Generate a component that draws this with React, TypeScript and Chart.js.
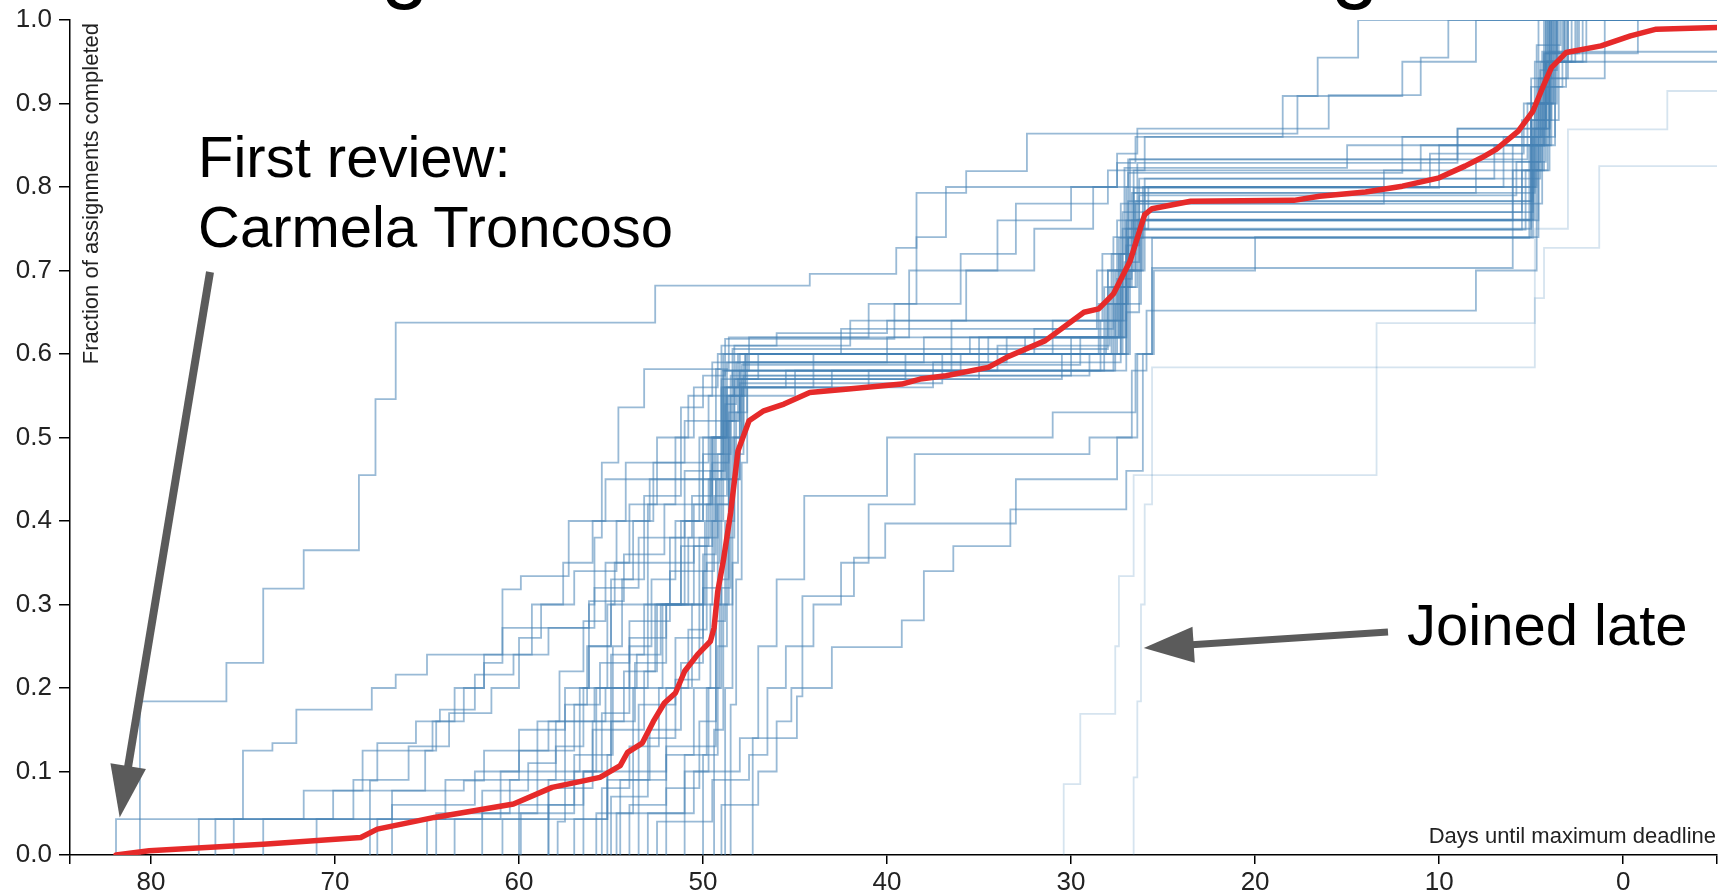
import React, { useEffect, useRef } from "react";
import { Chart, registerables } from "chart.js";

Chart.register(...registerables);

type Step = [number, number];

// ---- axes ----
const xTickValues = [80, 70, 60, 50, 40, 30, 20, 10, 0];
const yTickValues = [0, 0.1, 0.2, 0.3, 0.4, 0.5, 0.6, 0.7, 0.8, 0.9, 1.0];
const xStart = 84.4;
const xEnd = -5.1;

// ---- average (red) ----
const avgDays = [81.9, 80.1, 73.9, 68.6, 67.7, 64.6, 60.3, 58.2, 55.6, 54.5, 54.1, 53.3, 52.7, 52.1, 51.5, 51.0, 50.3, 49.6, 49.4, 49.2, 48.9, 48.5, 48.1, 47.5, 46.7, 45.6, 44.2, 42.1, 39.2, 38.2, 36.8, 34.5, 33.5, 31.4, 29.3, 28.5, 27.7, 26.8, 26.0, 25.6, 23.5, 17.9, 16.5, 14.0, 12.0, 10.0, 8.6, 7.7, 6.9, 5.7, 4.9, 4.3, 3.9, 3.1, 1.2, -0.4, -1.8, -5.1];
const avgFrac = [0, 0.005, 0.013, 0.021, 0.031, 0.045, 0.061, 0.081, 0.093, 0.107, 0.123, 0.134, 0.16, 0.182, 0.194, 0.22, 0.24, 0.256, 0.272, 0.316, 0.352, 0.41, 0.484, 0.52, 0.532, 0.54, 0.554, 0.558, 0.564, 0.57, 0.574, 0.584, 0.596, 0.616, 0.65, 0.654, 0.672, 0.711, 0.767, 0.774, 0.783, 0.784, 0.789, 0.794, 0.801, 0.811, 0.825, 0.835, 0.845, 0.867, 0.891, 0.923, 0.943, 0.961, 0.969, 0.981, 0.989, 0.991];

// ---- individual reviewers: [day, fraction after that day's completions] ----
const r01: Step[] = [[81.9, 0], [81.9, 0.043], [55.2, 0.09], [52.0, 0.13], [49.3, 0.3], [48.6, 0.52], [48.0, 0.565], [37.0, 0.6], [27.2, 0.7], [26.5, 0.78], [6.0, 0.85], [4.2, 0.95], [3.6, 1.0]];
const r02: Step[] = [[80.6, 0], [80.6, 0.184], [75.9, 0.23], [73.9, 0.319], [71.7, 0.365], [68.7, 0.455], [67.8, 0.546], [66.7, 0.6375], [52.6, 0.682], [44.2, 0.696], [39.5, 0.727], [38.4, 0.793], [35.7, 0.819], [32.4, 0.864], [17.7, 0.909], [16.6, 0.955], [14.4, 1.0]];
const r03: Step[] = [[77.4, 0], [77.4, 0.043], [75.0, 0.125], [73.4, 0.134], [72.1, 0.174], [68.0, 0.2], [66.7, 0.216], [65.0, 0.24], [60.9, 0.318], [59.9, 0.334], [57.3, 0.4], [55.3, 0.45], [49.0, 0.56], [48.4, 0.606], [28.0, 0.7], [26.9, 0.783], [5.0, 0.9], [3.8, 1.0]];
const r04: Step[] = [[76.5, 0], [76.5, 0.043], [70.1, 0.077], [68.5, 0.125], [64.7, 0.16], [63.0, 0.2], [61.9, 0.24], [59.3, 0.272], [56.2, 0.304], [54.3, 0.36], [52.1, 0.42], [49.6, 0.5], [48.8, 0.58], [27.0, 0.65], [26.3, 0.761], [4.8, 0.87], [4.0, 0.962], [3.2, 1.0]];
const r05: Step[] = [[75.5, 0], [75.5, 0.043], [68.1, 0.089], [67.7, 0.134], [65.6, 0.16], [64.3, 0.174], [62.4, 0.216], [60.3, 0.24], [58.4, 0.272], [55.9, 0.32], [53.5, 0.38], [51.0, 0.46], [48.9, 0.52], [48.3, 0.57], [35.0, 0.62], [27.3, 0.72], [26.6, 0.799], [10.0, 0.85], [4.3, 0.96], [2.5, 1.0]];
const r06: Step[] = [[73.9, 0], [73.9, 0.043], [71.7, 0.077], [65.1, 0.125], [64.5, 0.16], [63.5, 0.2], [61.9, 0.23], [60.9, 0.272], [59.3, 0.3], [57.0, 0.34], [54.7, 0.4], [52.9, 0.45], [49.4, 0.5], [48.7, 0.59], [40.0, 0.62], [27.6, 0.7], [26.9, 0.817], [12.0, 0.86], [4.5, 0.95], [3.0, 1.0]];
const r07: Step[] = [[68.1, 0], [68.1, 0.043], [66.9, 0.077], [63.0, 0.089], [61.9, 0.125], [58.4, 0.16], [55.3, 0.2], [53.6, 0.24], [52.3, 0.3], [50.2, 0.38], [49.2, 0.48], [48.5, 0.574], [30.0, 0.6], [27.0, 0.7], [26.2, 0.749], [5.5, 0.82], [4.1, 0.95], [2.0, 1.0]];
const r08: Step[] = [[67.7, 0], [67.7, 0.043], [64.0, 0.09], [60.0, 0.125], [57.0, 0.18], [55.6, 0.23], [54.0, 0.28], [51.8, 0.34], [49.8, 0.42], [49.0, 0.52], [48.4, 0.58], [34.0, 0.61], [27.9, 0.68], [26.7, 0.793], [8.0, 0.83], [4.2, 0.96], [-0.8, 1.0]];
const r09: Step[] = [[66.9, 0], [66.9, 0.06], [62.4, 0.1], [60.0, 0.15], [57.5, 0.2], [56.2, 0.25], [55.0, 0.3], [53.0, 0.35], [50.5, 0.42], [49.5, 0.5], [48.9, 0.56], [48.1, 0.6], [36.5, 0.64], [28.3, 0.72], [27.1, 0.823], [15.0, 0.85], [4.6, 0.93], [3.9, 1.0]];
const r10: Step[] = [[65.0, 0], [65.0, 0.043], [62.0, 0.077], [59.5, 0.11], [58.0, 0.16], [55.9, 0.2], [54.0, 0.26], [52.0, 0.3], [50.0, 0.36], [49.3, 0.45], [48.7, 0.55], [47.9, 0.587], [29.5, 0.62], [27.4, 0.739], [26.1, 0.8], [6.5, 0.86], [4.4, 0.962]];
const r11: Step[] = [[64.5, 0], [64.5, 0.05], [60.5, 0.09], [58.0, 0.13], [56.5, 0.2], [55.0, 0.24], [53.2, 0.3], [51.2, 0.37], [49.5, 0.47], [48.6, 0.55], [48.0, 0.6], [32.0, 0.63], [27.7, 0.74], [26.4, 0.829], [9.0, 0.87], [4.0, 0.95]];
const r12: Step[] = [[60.9, 0], [60.9, 0.043], [58.4, 0.09], [56.0, 0.16], [54.3, 0.22], [52.5, 0.3], [50.8, 0.38], [49.6, 0.46], [48.8, 0.54], [48.2, 0.59], [38.0, 0.62], [27.0, 0.76], [5.0, 0.86], [3.7, 1.0]];
const r13: Step[] = [[59.9, 0], [59.9, 0.05], [57.0, 0.1], [55.5, 0.17], [54.0, 0.25], [52.8, 0.33], [51.5, 0.4], [50.0, 0.48], [48.9, 0.55], [48.3, 0.61], [42.0, 0.64], [27.5, 0.76], [26.8, 0.833], [5.2, 0.9], [4.0, 1.0]];
const r14: Step[] = [[58.4, 0], [58.4, 0.06], [56.5, 0.1], [55.0, 0.16], [53.7, 0.23], [52.0, 0.3], [50.5, 0.37], [49.7, 0.45], [48.8, 0.56], [47.7, 0.6], [31.0, 0.64], [27.2, 0.75], [26.0, 0.81], [7.0, 0.85], [4.7, 0.97], [3.4, 1.0]];
const r15: Step[] = [[57.0, 0], [57.0, 0.043], [55.2, 0.1], [53.5, 0.18], [51.5, 0.26], [50.0, 0.34], [49.4, 0.43], [48.7, 0.52], [48.1, 0.57], [39.0, 0.6], [27.8, 0.72], [26.5, 0.783], [4.9, 0.87], [4.2, 1.0]];
const r16: Step[] = [[55.5, 0], [55.5, 0.08], [54.0, 0.13], [52.4, 0.2], [50.8, 0.27], [49.8, 0.35], [49.1, 0.45], [48.5, 0.55], [47.8, 0.59], [33.5, 0.62], [27.1, 0.71], [26.3, 0.79], [5.8, 0.83], [4.5, 0.94], [3.6, 1.0]];
const r17: Step[] = [[55.0, 0], [55.0, 0.07], [53.0, 0.14], [51.5, 0.21], [50.2, 0.3], [49.5, 0.4], [48.9, 0.5], [48.3, 0.56], [44.0, 0.6], [27.5, 0.69], [26.7, 0.76], [4.6, 0.88], [3.9, 1.0]];
const r18: Step[] = [[54.5, 0], [54.5, 0.09], [52.9, 0.15], [51.2, 0.23], [50.0, 0.32], [49.2, 0.42], [48.6, 0.53], [48.0, 0.58], [36.0, 0.6], [28.1, 0.66], [26.9, 0.739], [5.1, 0.85], [4.3, 0.95], [2.8, 1.0]];
const r19: Step[] = [[54.0, 0], [54.0, 0.06], [52.0, 0.12], [50.5, 0.2], [49.6, 0.3], [49.0, 0.42], [48.4, 0.5], [47.9, 0.57], [30.5, 0.6], [27.3, 0.68], [26.4, 0.761], [4.9, 0.86], [4.0, 1.0]];
const r20: Step[] = [[53.0, 0], [53.0, 0.05], [51.0, 0.12], [49.8, 0.2], [49.1, 0.33], [48.6, 0.45], [48.2, 0.53], [47.6, 0.56], [41.0, 0.58], [27.6, 0.66], [26.2, 0.749], [5.3, 0.82], [4.4, 0.93], [3.0, 1.0]];
const r21: Step[] = [[52.0, 0], [52.0, 0.08], [50.2, 0.16], [49.3, 0.28], [48.8, 0.4], [48.3, 0.5], [47.8, 0.574], [29.0, 0.6], [26.8, 0.7], [26.0, 0.8], [4.7, 0.9], [3.8, 1.0]];
const r22: Step[] = [[51.0, 0], [51.0, 0.1], [49.7, 0.2], [49.0, 0.32], [48.5, 0.45], [48.0, 0.55], [47.6, 0.6], [35.5, 0.62], [27.4, 0.72], [26.6, 0.793], [4.8, 0.9], [4.1, 1.0]];
const r23: Step[] = [[50.0, 0], [50.0, 0.12], [49.2, 0.25], [48.7, 0.38], [48.3, 0.5], [47.9, 0.56], [43.0, 0.58], [27.7, 0.68], [26.5, 0.75], [5.0, 0.88], [3.5, 1.0]];
const r24: Step[] = [[49.4, 0], [49.4, 0.15], [48.9, 0.3], [48.4, 0.45], [48.0, 0.55], [47.7, 0.6], [32.5, 0.62], [27.0, 0.73], [26.3, 0.81], [4.5, 0.92], [3.3, 1.0]];
const r25: Step[] = [[48.8, 0], [48.8, 0.2], [48.4, 0.35], [48.1, 0.48], [47.8, 0.56], [37.5, 0.59], [27.3, 0.7], [26.1, 0.77], [4.9, 0.88], [4.2, 0.95], [2.2, 1.0]];
const r26: Step[] = [[48.5, 0], [48.5, 0.18], [48.2, 0.33], [47.9, 0.47], [47.6, 0.55], [45.0, 0.58], [28.2, 0.68], [26.8, 0.76], [6.0, 0.82], [4.6, 0.92], [3.1, 1.0]];
const r27: Step[] = [[47.3, 0], [47.3, 0.14], [44.9, 0.19], [44.6, 0.31], [41.8, 0.356], [40.1, 0.397], [33.0, 0.45], [27.5, 0.5], [26.4, 0.6], [25.5, 0.7], [20.0, 0.74], [5.0, 0.85], [3.9, 1.0]];
const r28: Step[] = [[49.0, 0], [49.0, 0.06], [47.0, 0.1], [46.0, 0.16], [45.2, 0.2], [43.0, 0.249], [39.2, 0.281], [38.0, 0.34], [36.4, 0.37], [33.3, 0.414], [27.0, 0.46], [26.1, 0.6], [25.6, 0.703], [6.0, 0.78], [4.4, 0.9], [3.6, 1.0]];
const r29: Step[] = [[52.5, 0], [52.5, 0.04], [49.5, 0.09], [47.5, 0.12], [46.5, 0.2], [45.5, 0.25], [44.0, 0.3], [42.5, 0.35], [41.0, 0.42], [38.5, 0.48], [29.0, 0.5], [26.7, 0.58], [25.9, 0.652], [8.0, 0.7], [4.7, 0.85], [4.0, 1.0]];
const r30: Step[] = [[55.8, 0], [55.8, 0.05], [50.5, 0.1], [48.0, 0.14], [47.0, 0.25], [46.0, 0.33], [44.5, 0.43], [40.0, 0.5], [31.0, 0.53], [26.5, 0.6], [25.6, 0.739], [4.9, 0.82], [4.3, 0.96], [2.4, 1.0]];
const r31: Step[] = [[62.0, 0], [62.0, 0.05], [59.0, 0.1], [57.5, 0.18], [56.3, 0.25], [55.0, 0.33], [53.2, 0.43], [51.2, 0.536], [50.0, 0.574], [48.8, 0.618], [39.6, 0.66], [38.4, 0.74], [36.8, 0.8], [27.5, 0.829], [26.5, 0.86], [5.0, 0.92], [4.2, 1.0]];
const r32: Step[] = [[58.4, 0], [58.4, 0.08], [56.0, 0.15], [53.8, 0.2], [52.2, 0.3], [51.2, 0.4], [50.2, 0.5], [49.3, 0.582], [48.6, 0.62], [41.0, 0.66], [36.0, 0.72], [33.0, 0.78], [28.0, 0.82], [26.0, 0.86], [18.5, 0.909], [12.0, 0.95], [8.0, 1.0]];
const r33: Step[] = [[57.9, 0], [57.9, 0.04], [57.5, 0.1], [56.7, 0.2], [56.2, 0.3], [55.9, 0.38], [55.5, 0.47], [54.6, 0.536], [53.2, 0.582], [49.0, 0.61], [46.0, 0.625], [40.0, 0.64], [35.7, 0.7], [32.0, 0.75], [28.8, 0.8], [26.9, 0.833], [9.0, 0.87], [4.2, 0.95], [2.6, 1.0]];
const r34: Step[] = [[56.5, 0], [56.5, 0.1], [55.8, 0.2], [55.2, 0.3], [54.8, 0.35], [53.0, 0.42], [51.5, 0.5], [50.5, 0.56], [49.2, 0.6], [30.0, 0.62], [27.2, 0.77], [5.5, 0.88], [4.6, 1.0]];
const r35: Step[] = [[55.2, 0], [55.2, 0.12], [54.9, 0.25], [54.4, 0.33], [53.8, 0.4], [52.7, 0.47], [51.0, 0.52], [49.0, 0.57], [47.0, 0.6], [28.5, 0.66], [27.0, 0.8], [4.8, 0.95], [3.2, 1.0]];
const r36: Step[] = [[54.7, 0], [54.7, 0.05], [53.8, 0.15], [53.2, 0.22], [52.6, 0.3], [51.8, 0.38], [50.6, 0.43], [49.5, 0.5], [48.9, 0.58], [36.5, 0.6], [26.9, 0.74], [4.6, 0.85], [3.7, 1.0]];
const r37: Step[] = [[63.5, 0], [63.5, 0.043], [61.0, 0.1], [59.0, 0.16], [57.8, 0.22], [56.5, 0.28], [55.3, 0.35], [54.0, 0.42], [52.5, 0.5], [50.8, 0.55], [49.5, 0.59], [34.5, 0.62], [28.0, 0.7], [26.6, 0.82], [11.0, 0.85], [5.0, 0.93], [4.3, 1.0]];
const r38: Step[] = [[71.0, 0], [71.0, 0.043], [69.0, 0.09], [66.0, 0.13], [63.8, 0.17], [61.5, 0.2], [60.0, 0.26], [58.8, 0.3], [57.6, 0.35], [56.0, 0.4], [54.2, 0.47], [49.7, 0.55], [48.9, 0.6], [42.5, 0.63], [28.6, 0.7], [27.3, 0.78], [13.0, 0.82], [4.0, 0.93], [1.0, 1.0]];
const r39: Step[] = [[53.5, 0], [53.5, 0.1], [52.0, 0.2], [50.6, 0.3], [49.9, 0.4], [49.3, 0.5], [48.7, 0.56], [45.5, 0.58], [28.4, 0.64], [27.0, 0.75], [25.8, 0.8], [10.5, 0.84], [5.4, 0.9], [4.1, 1.0]];
const r40: Step[] = [[60.0, 0], [60.0, 0.06], [57.0, 0.12], [55.0, 0.2], [53.0, 0.3], [51.0, 0.4], [50.0, 0.5], [49.0, 0.58], [47.5, 0.62], [38.8, 0.7], [34.0, 0.76], [30.0, 0.8], [27.5, 0.84], [26.4, 0.87], [16.0, 0.91], [11.0, 0.955], [9.5, 1.0]];

// joined late (drawn faint)
const lateA: Step[] = [[30.4, 0], [30.4, 0.085], [29.5, 0.169], [27.6, 0.25], [27.4, 0.334], [26.6, 0.455], [13.4, 0.637], [4.8, 0.667], [4.3, 0.727], [1.3, 0.825]];
const lateB: Step[] = [[26.6, 0], [26.6, 0.093], [26.4, 0.184], [26.2, 0.3], [26.0, 0.42], [25.6, 0.584], [4.8, 0.75], [3.0, 0.869], [-2.4, 0.915]];

const reviewers: Step[][] = [r01, r02, r03, r04, r05, r06, r07, r08, r09, r10, r11, r12, r13, r14, r15, r16, r17, r18, r19, r20, r21, r22, r23, r24, r25, r26, r27, r28, r29, r30, r31, r32, r33, r34, r35, r36, r37, r38, r39, r40];
const lateReviewers: Step[][] = [lateA, lateB];

const FONT = "'Liberation Sans', Arial, Helvetica, sans-serif";

function toPoints(s: Step[]) {
  const pts = s.map(([d, f]) => ({ x: d, y: f }));
  pts.push({ x: xEnd, y: s[s.length - 1][1] });
  return pts;
}

function drawArrow(ctx: CanvasRenderingContext2D, x0: number, y0: number, x1: number, y1: number, w: number, headLen: number, headHalf: number) {
  const a = Math.atan2(y1 - y0, x1 - x0);
  const bx = x1 - headLen * Math.cos(a);
  const by = y1 - headLen * Math.sin(a);
  ctx.strokeStyle = "#5b5b5b";
  ctx.fillStyle = "#5b5b5b";
  ctx.lineWidth = w;
  ctx.lineCap = "butt";
  ctx.beginPath();
  ctx.moveTo(x0, y0);
  ctx.lineTo(bx + Math.cos(a) * 2, by + Math.sin(a) * 2);
  ctx.stroke();
  const px = -Math.sin(a), py = Math.cos(a);
  ctx.beginPath();
  ctx.moveTo(x1, y1);
  ctx.lineTo(bx + px * headHalf, by + py * headHalf);
  ctx.lineTo(bx - px * headHalf, by - py * headHalf);
  ctx.closePath();
  ctx.fill();
}

const annotate = {
  id: "annotate",
  afterDraw(chart: any) {
    const ctx: CanvasRenderingContext2D = chart.ctx;
    const xs = chart.scales.x;
    const ys = chart.scales.y;
    const area = chart.chartArea;
    ctx.save();
    // remnants of the slide title above the chart
    ctx.fillStyle = "#000";
    ctx.font = `86px ${FONT}`;
    ctx.textAlign = "left";
    ctx.textBaseline = "alphabetic";
    ctx.fillText("g", 381, -8);
    ctx.fillText("g", 1331, -8);

    // axis titles
    ctx.fillStyle = "#222";
    ctx.font = `22px ${FONT}`;
    ctx.textAlign = "right";
    ctx.fillText("Days until maximum deadline", area.right - 1, area.bottom - 12);
    ctx.save();
    ctx.translate(area.left + 28, area.top + 3);
    ctx.rotate(-Math.PI / 2);
    ctx.textAlign = "right";
    ctx.fillText("Fraction of assignments completed", 0, 0);
    ctx.restore();

    // annotations
    ctx.fillStyle = "#000";
    ctx.font = `58px ${FONT}`;
    ctx.textAlign = "left";
    ctx.fillText("First review:", 198, 177);
    ctx.fillText("Carmela Troncoso", 198, 247);
    ctx.fillText("Joined late", 1407, 645);

    const t1x = xs.getPixelForValue(81.7);
    const t1y = ys.getPixelForValue(0.045);
    drawArrow(ctx, 210, 272, t1x, t1y, 8, 52, 18);
    const t2x = xs.getPixelForValue(26.05);
    const t2y = ys.getPixelForValue(0.248);
    drawArrow(ctx, 1388, 632, t2x, t2y, 7, 50, 18);
    ctx.restore();
  },
};

export default function App() {
  const ref = useRef<HTMLCanvasElement | null>(null);

  useEffect(() => {
    if (!ref.current) return;
    const datasets: any[] = [];
    datasets.push({
      data: avgDays.map((d, i) => ({ x: d, y: avgFrac[i] })),
      borderColor: "#e62a2a",
      borderWidth: 5.5,
      pointRadius: 0,
      borderJoinStyle: "round",
      borderCapStyle: "round",
      order: 0,
    });
    reviewers.forEach((r) =>
      datasets.push({
        data: toPoints(r),
        stepped: "before",
        borderColor: "rgba(70,130,180,0.55)",
        borderWidth: 1.8,
        pointRadius: 0,
        order: 1,
      })
    );
    lateReviewers.forEach((r) =>
      datasets.push({
        data: toPoints(r),
        stepped: "before",
        borderColor: "rgba(70,130,180,0.22)",
        borderWidth: 1.8,
        pointRadius: 0,
        order: 2,
      })
    );

    const chart = new Chart(ref.current, {
      type: "line",
      data: { datasets },
      plugins: [annotate],
      options: {
        animation: false,
        responsive: false,
        events: [],
        layout: { padding: { top: 20, right: 2, left: 0, bottom: 0 } },
        plugins: { legend: { display: false }, tooltip: { enabled: false } },
        scales: {
          x: {
            type: "linear",
            reverse: true,
            min: xEnd,
            max: xStart,
            afterBuildTicks: (scale: any) => {
              scale.ticks = [xStart, ...xTickValues, xEnd].map((v) => ({ value: v }));
            },
            afterFit: (scale: any) => {
              scale.height = 38;
              scale.paddingLeft = 0;
              scale.paddingRight = 0;
            },
            ticks: {
              autoSkip: false,
              maxRotation: 0,
              padding: 3,
              color: "#222",
              font: { family: FONT, size: 26 },
              callback: (v: any) => (xTickValues.includes(Number(v)) ? String(v) : ""),
            },
            grid: { display: true, drawOnChartArea: false, drawTicks: true, tickLength: 9, color: "#000", lineWidth: 1.5 },
            border: { display: true, color: "#000", width: 1.5 },
          },
          y: {
            type: "linear",
            min: 0,
            max: 1,
            afterBuildTicks: (scale: any) => {
              scale.ticks = yTickValues.map((v) => ({ value: v }));
            },
            afterFit: (scale: any) => {
              scale.width = 70;
              scale.paddingTop = 0;
              scale.paddingBottom = 0;
            },
            ticks: {
              autoSkip: false,
              padding: 7,
              color: "#222",
              font: { family: FONT, size: 26 },
              callback: (v: any) => Number(v).toFixed(1),
            },
            grid: { display: true, drawOnChartArea: false, drawTicks: true, tickLength: 11, color: "#000", lineWidth: 1.5 },
            border: { display: true, color: "#000", width: 1.5 },
          },
        },
      },
    });
    return () => chart.destroy();
  }, []);

  return (
    <div style={{ position: "fixed", left: 0, top: 0, width: 1719, height: 893, background: "#fff" }}>
      <canvas ref={ref} width={1719} height={893} style={{ width: 1719, height: 893, display: "block" }} />
    </div>
  );
}
